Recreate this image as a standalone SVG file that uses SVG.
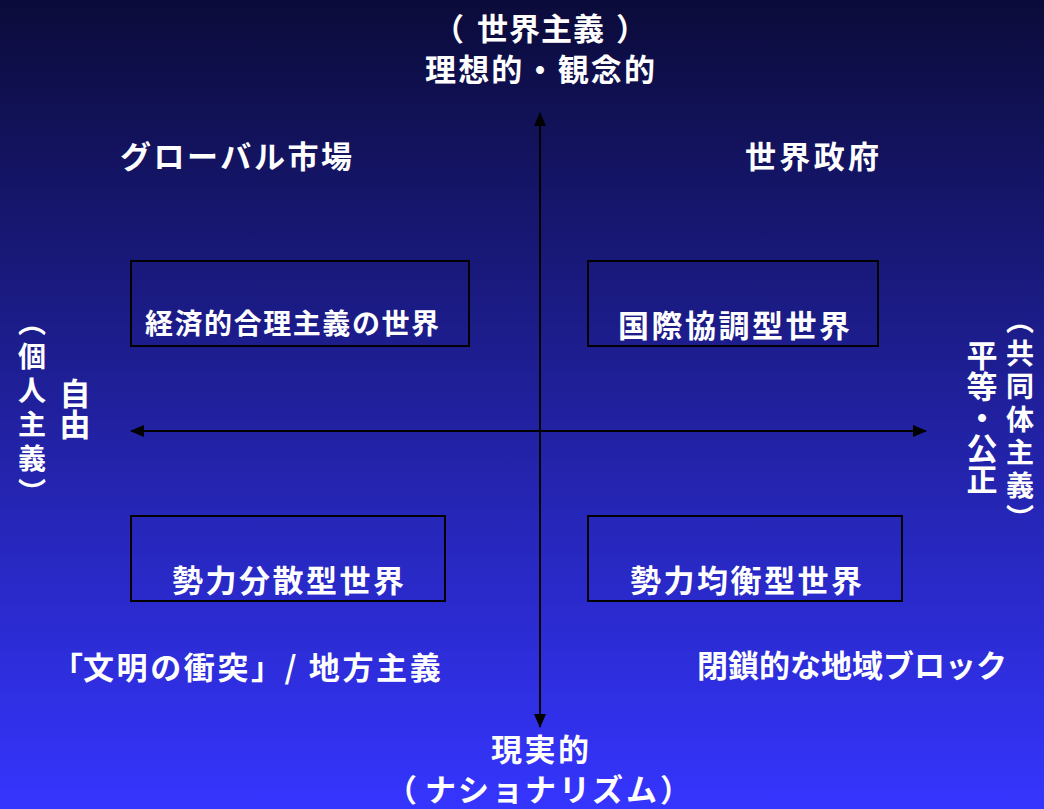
<svg xmlns="http://www.w3.org/2000/svg" width="1044" height="809" viewBox="0 0 1044 809">
<defs>
<linearGradient id="bg" x1="0" y1="0" x2="0" y2="1">
<stop offset="0" stop-color="#0b0b3a"/>
<stop offset="1" stop-color="#3535ff"/>
</linearGradient>
<marker id="ah" viewBox="0 0 14 12" refX="13" refY="6" markerWidth="14" markerHeight="12" markerUnits="userSpaceOnUse" orient="auto-start-reverse">
<path d="M0,0 L14,6 L0,12 Z" fill="#000"/>
</marker>
<style>
text{font-family:"Noto Sans CJK JP","Noto Sans CJK SC",sans-serif;font-weight:bold;fill:#fff;}
.t{font-size:31px;}
.s{font-size:28px;}
.c{text-anchor:middle;}
.v{writing-mode:vertical-rl;}
.box{fill:none;stroke:#000;stroke-width:2;}
.ax{stroke:#000;stroke-width:2;fill:none;}
</style>
</defs>
<rect width="1044" height="809" fill="url(#bg)"/>
<g id="connectors">
<line class="ax" x1="540" y1="720" x2="540" y2="113" marker-end="url(#ah)"/>
<line class="ax" x1="540" y1="300" x2="540" y2="727" marker-end="url(#ah)"/>
<line class="ax" x1="540" y1="431" x2="131" y2="431" marker-end="url(#ah)"/>
<line class="ax" x1="540" y1="431" x2="926" y2="431" marker-end="url(#ah)"/>
</g>
<g id="top-label">
<text class="t" x="433 477 509 541 573 616" y="40">（世界主義）</text>
<text class="t c" x="540" y="81" textLength="230" lengthAdjust="spacing">理想的・観念的</text>
</g>
<g id="bottom-label">
<text class="t c" x="540" y="761" textLength="98" lengthAdjust="spacing">現実的</text>
<text class="t" x="386 425 458 492 525 559 592 626 660" y="801">（ナショナリズム）</text>
</g>
<g id="left-label">
<text class="s v" x="32" y="308" style="letter-spacing:6px">（個人主義）</text>
<text class="t v" x="75" y="378">自由</text>
</g>
<g id="right-label">
<text class="s v" x="1020" y="306" style="letter-spacing:5px">（共同体主義）</text>
<text class="t v" x="982" y="340">平等・公正</text>
</g>
<g id="q1-label"><text class="t" x="120" y="168" textLength="232" lengthAdjust="spacing">グローバル市場</text></g>
<g id="q2-label"><text class="t" x="745" y="168" textLength="134" lengthAdjust="spacing">世界政府</text></g>
<g id="q3-label"><text class="t" y="679" style="letter-spacing:2.6px"><tspan x="52">「</tspan><tspan x="83">文明の衝突」/ 地方主義</tspan></text></g>
<g id="q4-label"><text class="t" x="697" y="677" textLength="310" lengthAdjust="spacing">閉鎖的な地域ブロック</text></g>
<g id="box-economic">
<rect class="box" x="131" y="261" width="338" height="85"/>
<text class="s" x="145" y="334" textLength="294" lengthAdjust="spacing">経済的合理主義の世界</text>
</g>
<g id="box-cooperative">
<rect class="box" x="588" y="261" width="290" height="85"/>
<text class="t" x="618" y="337" textLength="232" lengthAdjust="spacing">国際協調型世界</text>
</g>
<g id="box-dispersed">
<rect class="box" x="131" y="516" width="314" height="85"/>
<text class="t" x="172" y="592" textLength="232" lengthAdjust="spacing">勢力分散型世界</text>
</g>
<g id="box-balance">
<rect class="box" x="588" y="516" width="314" height="85"/>
<text class="t" x="630" y="592" textLength="232" lengthAdjust="spacing">勢力均衡型世界</text>
</g>
</svg>
